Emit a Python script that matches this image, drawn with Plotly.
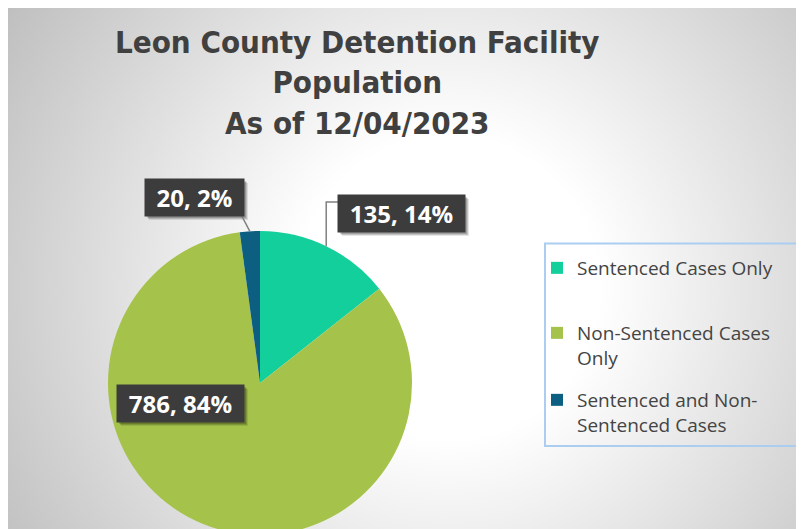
import math
import base64
import plotly.graph_objects as go

# ---------------- data ----------------
categories = ["Sentenced Cases Only", "Non-Sentenced Cases Only", "Sentenced and Non-Sentenced Cases"]
legend_labels = ["Sentenced Cases Only", "Non-Sentenced Cases<br>Only", "Sentenced and Non-<br>Sentenced Cases"]
values = [135, 786, 20]
colors = ["#13CF9C", "#A5C34A", "#0D5F82"]
title_lines = ["Leon County Detention Facility", "Population", "As of 12/04/2023"]

# ---------------- layout geometry (pixels in paper space) ----------------
W, H = 820, 560
CX, CY, R = 252, 375, 152          # pie centre / radius
LABEL_BOX = [(393.5, 205.5, 119), (172.5, 395.5, 119), (186.5, 189.5, 91)]  # per slice: centre x, y, text width
BOX_PAD, BOX_TXT_H = 4, 29

def fx(px):
    return px / W

def fy(py):
    return 1 - py / H

total = sum(values)
pcts = [round(100 * v / total) for v in values]
label_texts = [f"{v}, {p}%" for v, p in zip(values, pcts)]

# slice mid-angles (clockwise from 12 o'clock) -> anchor points on rim
anchors = []
cum = 0
for v in values:
    a = 2 * math.pi * (cum + v / 2) / total
    anchors.append((CX + R * math.sin(a), CY - R * math.cos(a)))
    cum += v

fig = go.Figure()

fig.add_trace(go.Pie(
    labels=categories,
    values=values,
    marker=dict(colors=colors, line=dict(width=0)),
    sort=False,
    direction="clockwise",
    rotation=0,
    textinfo="none",
    hoverinfo="label+value+percent",
    showlegend=False,
    domain=dict(x=[fx(CX - R), fx(CX + R)], y=[fy(CY + R), fy(CY - R)]),
))

# legend entries (one legend per entry to reproduce the spacing)
legend_tops = [241, 306, 373]
legend_names = ["legend", "legend2", "legend3"]
for name, lab, col in zip(legend_names, legend_labels, colors):
    fig.add_trace(go.Scatter(
        x=[None], y=[None], mode="markers", name=lab,
        marker=dict(symbol="square", size=12, color=col),
        legend=name, showlegend=True, hoverinfo="skip",
    ))

legend_style = dict(
    xanchor="left", yanchor="top", bgcolor="rgba(0,0,0,0)", borderwidth=0,
    valign="top", font=dict(family="Open Sans, Noto Sans, sans-serif", size=19, color="#444444"),
    itemclick=False, itemdoubleclick=False,
)
legend_layout = {}
for name, top in zip(legend_names, legend_tops):
    legend_layout[name] = dict(x=fx(529), y=fy(top), **legend_style)

# background radial gradient as an SVG image
svg = f'''<svg xmlns="http://www.w3.org/2000/svg" width="{W}" height="{H}" viewBox="0 0 {W} {H}">
<defs><radialGradient id="g" gradientUnits="userSpaceOnUse" cx="440" cy="280" r="540">
<stop offset="0" stop-color="#ffffff"/><stop offset="0.28" stop-color="#ffffff"/>
<stop offset="1" stop-color="#bcbcbc"/></radialGradient></defs>
<rect x="0" y="0" width="{W}" height="{H}" fill="url(#g)"/></svg>'''
src = "data:image/svg+xml;base64," + base64.b64encode(svg.encode()).decode()

shapes = []
annotations = []

# data labels: shadow rectangles + dark boxes with white text
label_font = dict(family="Open Sans, Noto Sans, sans-serif", size=24, color="white", weight="bold")
for txt, (bx, by, bw) in zip(label_texts, LABEL_BOX):
    half_w = bw / 2 + BOX_PAD
    half_h = BOX_TXT_H / 2 + BOX_PAD
    for off, alpha in ((4, 0.10), (3, 0.14), (2, 0.18)):
        shapes.append(dict(type="rect", xref="paper", yref="paper",
                           x0=fx(bx - half_w + off), x1=fx(bx + half_w + off),
                           y0=fy(by + half_h + off), y1=fy(by - half_h + off),
                           line=dict(width=0), fillcolor=f"rgba(0,0,0,{alpha})", layer="above"))
    annotations.append(dict(x=fx(bx), y=fy(by), xref="paper", yref="paper", text=txt, showarrow=False,
                            xanchor="center", yanchor="middle", width=bw, height=BOX_TXT_H,
                            borderpad=BOX_PAD, align="center", bgcolor="#3c3c3c", font=label_font))

# leader lines
ax0, ay0 = anchors[0]
bx0, by0, bw0 = LABEL_BOX[0]
elbow_y = by0 - 11.5
shapes.append(dict(type="path", xref="paper", yref="paper",
                   path=f"M {fx(ax0)},{fy(ay0)} L {fx(ax0)},{fy(elbow_y)} L {fx(bx0 - bw0/2 - BOX_PAD)},{fy(elbow_y)}",
                   line=dict(color="#808080", width=1.5), layer="above"))
ax2, ay2 = anchors[2]
bx2, by2, bw2 = LABEL_BOX[2]
shapes.append(dict(type="line", xref="paper", yref="paper",
                   x0=fx(ax2), y0=fy(ay2), x1=fx(bx2 + bw2/2 + 1), y1=fy(by2 + 17),
                   line=dict(color="#808080", width=1.5), layer="above"))
# legend frame
shapes.append(dict(type="rect", xref="paper", yref="paper",
                   x0=fx(537), y0=fy(438), x1=fx(789.5), y1=fy(235.5),
                   line=dict(color="#AACDF0", width=2), fillcolor="rgba(0,0,0,0)", layer="above"))

# title as a multi-line annotation
annotations.append(dict(text="<br>".join(title_lines), x=fx(349), y=fy(14), xref="paper", yref="paper",
                        xanchor="center", yanchor="top", showarrow=False, align="center",
                        font=dict(family="Liberation Sans Narrow, DejaVu Sans Condensed, sans-serif",
                                  size=31, color="#404040", weight="bold")))

fig.update_layout(
    width=W, height=H,
    margin=dict(l=0, r=0, t=0, b=0),
    paper_bgcolor="#ffffff", plot_bgcolor="rgba(0,0,0,0)",
    xaxis=dict(visible=False), yaxis=dict(visible=False),
    images=[dict(source=src, xref="paper", yref="paper", x=0, y=1, sizex=1, sizey=1,
                 sizing="stretch", layer="below", xanchor="left", yanchor="top")],
    annotations=annotations,
    shapes=shapes,
    **legend_layout,
)

fig.write_html("out.html",
               post_script="document.documentElement.style.overflow='hidden';document.body.style.overflow='hidden';")
